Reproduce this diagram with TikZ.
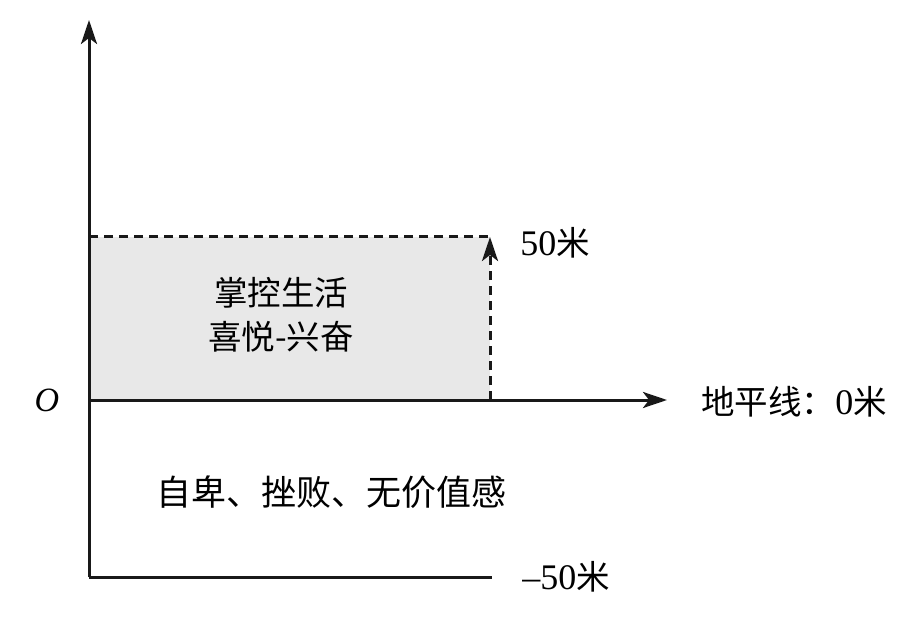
\documentclass[tikz,border=0pt]{standalone}
\usepackage{fontspec}
\setmainfont{Liberation Serif}
\newfontfamily\cjk{Noto Sans CJK SC}[Scale=1]
\usetikzlibrary{arrows.meta}
\definecolor{boxgray}{HTML}{E8E8E8}
\tikzset{
  axisline/.style={line width=3pt, draw=black!90},
  dashline/.style={line width=3pt, dash pattern=on 9pt off 6pt, draw=black!90},
  tip/.style={-{Stealth[length=24pt,width=16pt,inset=6pt]}},
  lbl/.style={inner sep=0pt, font=\fontsize{33.5}{42}\selectfont\cjk},
  biglbl/.style={inner sep=0pt, font=\fontsize{35}{42}\selectfont\cjk},
}
\newcommand{\numf}[1]{{\fontsize{36}{42}\selectfont\rmfamily #1}}
\begin{document}
\begin{tikzpicture}[x=1pt,y=-1pt]
\useasboundingbox (0,0) rectangle (910,617);
\coordinate (O) at (89,400);
\coordinate (ytop) at (89,20);
\coordinate (ybot) at (89,577);
\coordinate (xend) at (667,400);
\coordinate (tl) at (89,237);
\coordinate (tr) at (490,237);
\coordinate (br) at (490,400);
\coordinate (bb) at (492,577);
\fill[boxgray] (tl) rectangle (br);
\draw[dashline] (tl) -- (tr);
\draw[dashline, tip] (br) -- (tr);
\draw[axisline, tip] (ybot) -- (ytop);
\draw[axisline, tip] (O) -- (xend);
\draw[axisline] (ybot) -- (bb);
\node[inner sep=0pt, font=\fontsize{34}{42}\selectfont\itshape] (olab) at (47,400) {O};
\node[lbl] (t50) at (555,243) {\numf{50}米};
\node[lbl] (t0) at (794,402) {地平线：\numf{0}米};
\node[lbl] (tm50) at (566,577) {\numf{–50}米};
\node[lbl] (a1) at (281,293) {掌控生活};
\node[lbl] (a2) at (281,337) {喜悦-兴奋};
\node[biglbl] (b1) at (331,492) {自卑、挫败、无价值感};
\end{tikzpicture}
\end{document}
